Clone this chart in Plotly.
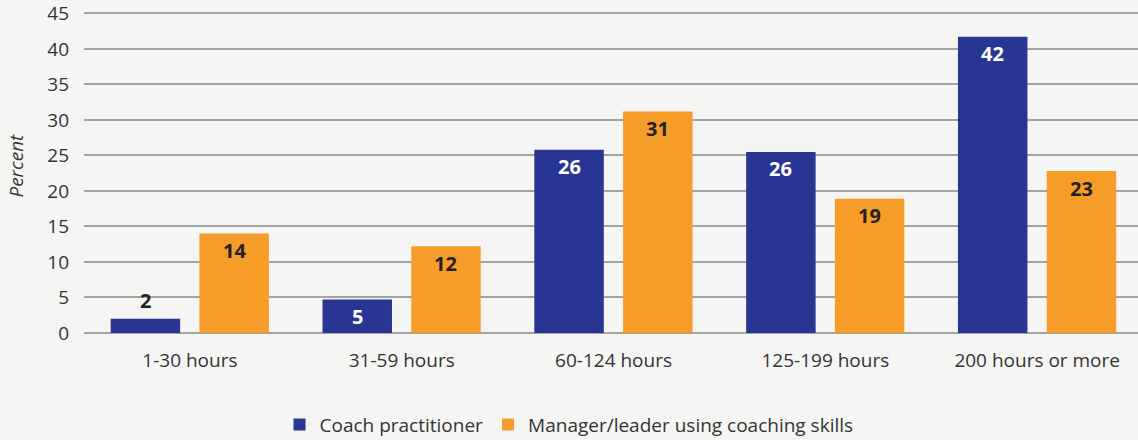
import plotly.graph_objects as go

categories = ["1-30 hours", "31-59 hours", "60-124 hours", "125-199 hours", "200 hours or more"]
coach_values = [2.0, 4.7, 25.8, 25.5, 41.7]
coach_labels = [2, 5, 26, 26, 42]
manager_values = [14.0, 12.2, 31.2, 18.9, 22.8]
manager_labels = [14, 12, 31, 19, 23]
series_names = ["Coach practitioner", "Manager/leader using coaching skills"]
y_ticks = [0, 5, 10, 15, 20, 25, 30, 35, 40, 45]

NAVY = "#283593"
ORANGE = "#f69c28"
BG = "#f5f5f3"
FONT = "Open Sans"
TXT = "#333333"

bar_width = 0.328
offsets = [-0.374, 0.045]
xpos = list(range(len(categories)))

fig = go.Figure()
fig.add_trace(go.Bar(x=xpos, y=coach_values, name=series_names[0], marker_color=NAVY,
                     width=bar_width, offset=offsets[0], marker_line_width=0))
fig.add_trace(go.Bar(x=xpos, y=manager_values, name=series_names[1], marker_color=ORANGE,
                     width=bar_width, offset=offsets[1], marker_line_width=0))

annotations = []
for vals, labs, off, inside_color in [(coach_values, coach_labels, offsets[0], "white"),
                                      (manager_values, manager_labels, offsets[1], "#222222")]:
    for i, (v, l) in enumerate(zip(vals, labs)):
        inside = v >= 3
        annotations.append(dict(
            x=i + off + bar_width / 2, y=v, xref="x", yref="y",
            text=f"<b>{l}</b>", showarrow=False,
            yshift=-17 if inside else 18,
            font=dict(family=FONT, size=20, color=inside_color if inside else "#222222"),
        ))

annotations.append(dict(
    text="<i>Percent</i>", xref="paper", yref="paper", x=-0.064, y=0.52,
    xanchor="center", yanchor="middle", textangle=-90, showarrow=False,
    font=dict(family=FONT, size=19, color=TXT),
))

fig.update_layout(
    width=1138, height=440,
    paper_bgcolor=BG, plot_bgcolor=BG,
    margin=dict(l=84, r=0, t=12, b=107),
    barmode="overlay",
    font=dict(family=FONT, size=19, color=TXT),
    showlegend=True,
    legend=dict(orientation="h", xref="container", x=0.5, xanchor="center",
                yref="container", y=0.035, yanchor="middle",
                font=dict(family=FONT, size=19, color=TXT),
                itemwidth=30, traceorder="normal"),
    annotations=annotations,
)
fig.update_xaxes(
    range=[-0.5, 4.476], tickvals=xpos, ticktext=categories,
    showgrid=False, zeroline=False, showline=False, ticks="",
    tickfont=dict(family=FONT, size=19, color=TXT),
    ticklabelstandoff=14,
)
fig.update_yaxes(
    range=[0, 45.2], tickvals=y_ticks, showgrid=True, gridcolor="#a3a3a3", gridwidth=2,
    zeroline=True, zerolinecolor="#a3a3a3", zerolinewidth=2, showline=False, ticks="",
    tickfont=dict(family=FONT, size=19, color=TXT),
    ticklabelstandoff=14,
)

fig.write_html("out.html", config={"displayModeBar": False},
               post_script="document.body.style.margin='0';document.body.style.background='%s';" % BG)
